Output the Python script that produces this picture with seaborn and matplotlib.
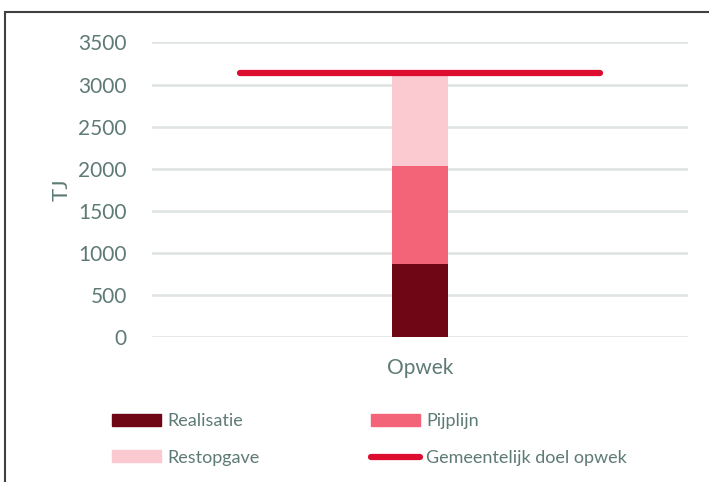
import numpy as np
import pandas as pd
import seaborn as sns
from matplotlib import pyplot as plt
from matplotlib.patches import Patch, Rectangle
from matplotlib.lines import Line2D

categories = ["Opwek"]
realisatie = [875]
pijplijn = [1160]
restopgave = [1105]
doel = 3140

series = ["Realisatie", "Pijplijn", "Restopgave"]
colors = ["#6e0615", "#f46478", "#fbc9d0"]
line_color = "#dc0d2e"
text_color = "#5e7a75"
grid_color = "#dde4e1"

sns.set_theme(style="white")
plt.rcParams["font.family"] = ["Lato", "DejaVu Sans"]

fig = plt.figure(figsize=(7.09, 4.82), dpi=100)
ax = fig.add_axes([0.214, 0.30, 0.757, 0.612])

cum = np.cumsum([realisatie, pijplijn, restopgave], axis=0)
# draw from tallest to shortest so the segments look stacked
for i in range(2, -1, -1):
    df = pd.DataFrame({"cat": categories, "val": cum[i]})
    sns.barplot(data=df, x="cat", y="val", color=colors[i], width=0.104,
                saturation=1, linewidth=0, ax=ax, zorder=3)

ax.hlines(doel, -0.335, 0.335, color=line_color, lw=4.5, capstyle="round", zorder=4)

ax.set_xlim(-0.5, 0.5)
ax.set_ylim(0, 3500)
ax.set_yticks(np.arange(0, 3501, 500))
ax.grid(axis="y", color=grid_color, lw=1.8, zorder=0)
ax.set_axisbelow(True)
for s in ax.spines.values():
    s.set_visible(False)
ax.tick_params(axis="both", colors=text_color, labelsize=15, length=0, pad=18)
ax.tick_params(axis="x", pad=15)
ax.set_xlabel("")
ax.set_ylabel("TJ", color=text_color, fontsize=16, labelpad=5)

handles = [Patch(color=colors[0], label=series[0]),
           Patch(color=colors[2], label=series[2]),
           Patch(color=colors[1], label=series[1]),
           Line2D([], [], color=line_color, lw=4.5, solid_capstyle="round",
                  label="Gemeentelijk doel opwek")]
leg = fig.legend(handles=handles, ncol=2, loc="lower left",
                 bbox_to_anchor=(0.135, 0.0), frameon=False, fontsize=13,
                 handlelength=2.7, handleheight=0.65, handletextpad=0.35,
                 columnspacing=6.2, labelspacing=1.15, labelcolor=text_color)

fig.patches.append(Rectangle((0.007, -0.01), 1.0, 0.985, transform=fig.transFigure,
                             fill=False, edgecolor="#404040", lw=1.5))

fig.savefig("out.png", dpi=100)
